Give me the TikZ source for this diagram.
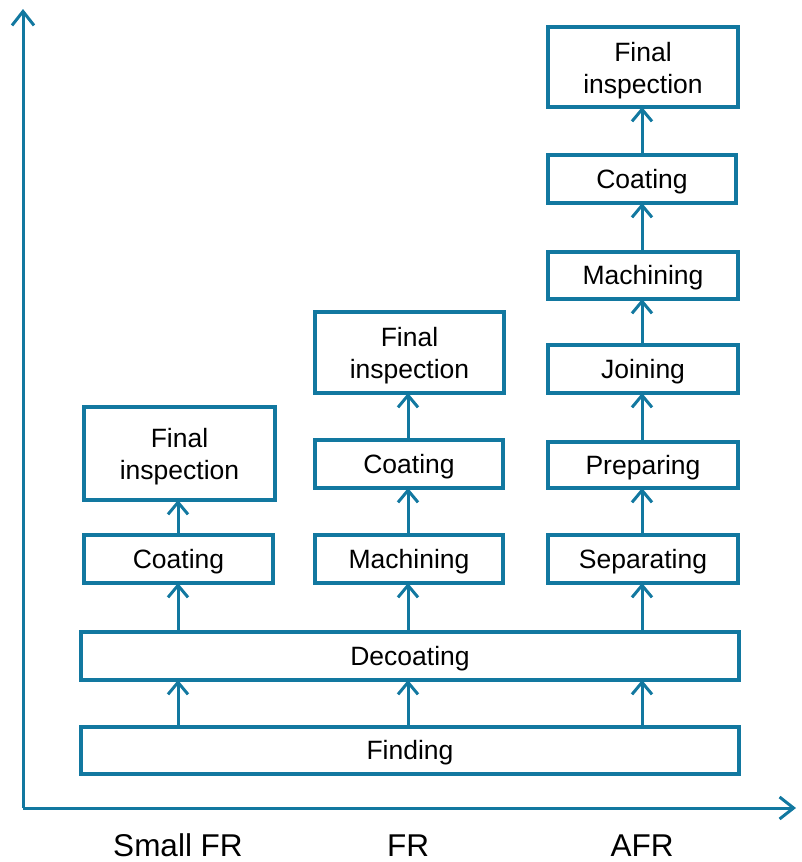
\documentclass[tikz,border=0pt]{standalone}
\usepackage{fontspec}
\setmainfont{Liberation Sans}
\usetikzlibrary{arrows.meta}
\definecolor{fblue}{RGB}{18,120,160}
\begin{document}
\begin{tikzpicture}[x=1pt,y=-1pt,
  procbox/.style={draw=fblue,line width=4pt,fill=white,inner sep=0pt,outer sep=0pt,
    font=\fontsize{26.5}{32}\selectfont,align=center,minimum width=#1,
    text height=19pt,text depth=1pt},
  procbox/.default=190pt,
  twoline/.style={text height=52pt,text depth=0pt},
  flow/.style={draw=fblue,line width=3pt,-{Straight Barb[length=12pt,width=20pt,line width=3pt]}},
  axis/.style={draw=fblue,line width=3pt,-{Straight Barb[length=14pt,width=22pt,line width=3pt]}},
  collabel/.style={font=\fontsize{31.5}{36}\selectfont,inner sep=0pt,text height=23pt,text depth=0pt}]
\useasboundingbox (0,0) rectangle (802,862);
% axes
\coordinate (origin) at (23,808);
\coordinate (ytop) at (23,9);
\coordinate (xend) at (796,808);
\draw[axis] (origin) -- (ytop);
\draw[axis] (origin) -- (xend);
% base boxes
\node[procbox=658pt,minimum height=47pt] (find) at (410,750.5) {Finding};
\node[procbox=658pt,minimum height=48pt] (deco) at (410,656) {Decoating};
% column 1
\node[procbox=189pt,minimum height=48pt] (coat1) at (178.5,559) {Coating};
\node[procbox=191pt,minimum height=93pt,twoline] (fin1) at (179.5,453.5) {Final\\inspection};
% column 2
\node[procbox=188pt,minimum height=48pt] (mach2) at (409,559) {Machining};
\node[procbox=188pt,minimum height=48pt] (coat2) at (409,464) {Coating};
\node[procbox=189pt,minimum height=81pt,twoline] (fin2) at (409.5,352.5) {Final\\inspection};
% column 3
\node[procbox=190pt,minimum height=48pt] (sep3) at (643,559) {Separating};
\node[procbox=190pt,minimum height=46pt] (prep3) at (643,465) {Preparing};
\node[procbox=190pt,minimum height=48pt] (join3) at (643,369) {Joining};
\node[procbox=190pt,minimum height=47pt] (mach3) at (643,275.5) {Machining};
\node[procbox=188pt,minimum height=48pt] (coat3) at (642,179) {Coating};
\node[procbox=190pt,minimum height=80pt,twoline] (fin3) at (643,67) {Final\\inspection};
% connectors
\coordinate (c1) at (178,0);
\coordinate (c2) at (408,0);
\coordinate (c3) at (642,0);
\foreach \c in {c1,c2,c3}{
  \draw[flow] (\c |- find.north) -- (\c |- deco.south);
}
\draw[flow] (c1 |- deco.north) -- (c1 |- coat1.south);
\draw[flow] (c2 |- deco.north) -- (c2 |- mach2.south);
\draw[flow] (c3 |- deco.north) -- (c3 |- sep3.south);
\draw[flow] (c1 |- coat1.north) -- (c1 |- fin1.south);
\draw[flow] (c2 |- mach2.north) -- (c2 |- coat2.south);
\draw[flow] (c2 |- coat2.north) -- (c2 |- fin2.south);
\draw[flow] (c3 |- sep3.north) -- (c3 |- prep3.south);
\draw[flow] (c3 |- prep3.north) -- (c3 |- join3.south);
\draw[flow] (c3 |- join3.north) -- (c3 |- mach3.south);
\draw[flow] (c3 |- mach3.north) -- (c3 |- coat3.south);
\draw[flow] (c3 |- coat3.north) -- (c3 |- fin3.south);
% column labels
\node[collabel] (lab1) at (178,845) {Small FR};
\node[collabel] (lab2) at (408,845) {FR};
\node[collabel] (lab3) at (642,845) {AFR};
\end{tikzpicture}
\end{document}
